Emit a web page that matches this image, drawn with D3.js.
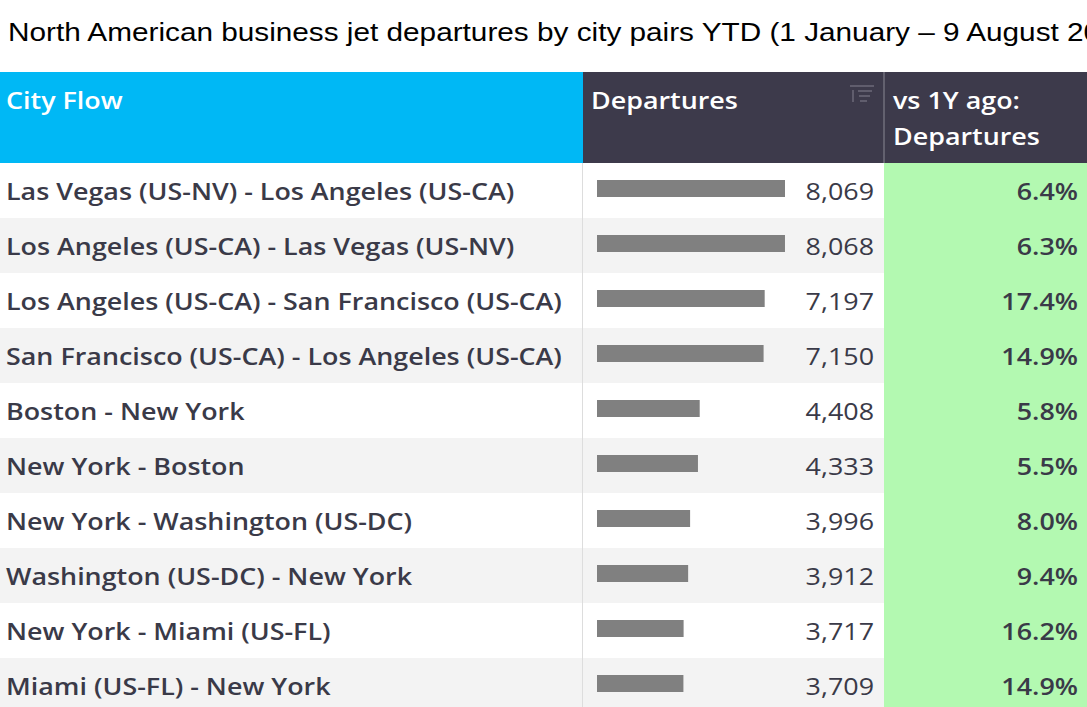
<!DOCTYPE html>
<html><head><meta charset="utf-8">
<script src="https://cdn.jsdelivr.net/npm/d3@7"></script>
<style>body{margin:0;background:#fff;overflow:hidden}</style>
</head><body><div id="chart"></div>
<script>
const cities = [
  "Las Vegas (US-NV) - Los Angeles (US-CA)",
  "Los Angeles (US-CA) - Las Vegas (US-NV)",
  "Los Angeles (US-CA) - San Francisco (US-CA)",
  "San Francisco (US-CA) - Los Angeles (US-CA)",
  "Boston - New York",
  "New York - Boston",
  "New York - Washington (US-DC)",
  "Washington (US-DC) - New York",
  "New York - Miami (US-FL)",
  "Miami (US-FL) - New York"
];
const departures = [8069, 8068, 7197, 7150, 4408, 4333, 3996, 3912, 3717, 3709];
const change = [6.4, 6.3, 17.4, 14.9, 5.8, 5.5, 8.0, 9.4, 16.2, 14.9];
const title = "North American business jet departures by city pairs YTD (1 January \u2013 9 August 2024)";

const W = 1087, H = 707;
const svg = d3.select("#chart").append("svg").attr("width", W).attr("height", H)
  .style("font-family", "'Open Sans', sans-serif");

// reference text is a bit wider than the fonts here, so stretch horizontally
const sx = 1.12;
function txt(parent, x, y, t, size, weight, fill, anchor) {
  return parent.append("text")
    .attr("transform", `translate(${x},${y}) scale(${sx},1)`)
    .attr("text-anchor", anchor || "start")
    .attr("font-size", size).attr("font-weight", weight).attr("fill", fill).text(t);
}

txt(svg, 8, 41, title, 25, 400, "#000").style("font-family", "'Liberation Sans', Arial, sans-serif")
  .attr("transform", "translate(8,41) scale(1.19,1)");

const c1 = 0, c2 = 583, c3 = 884;
const headTop = 72, headH = 91, rowH = 55;
const textCol = "#3a3a48";

// header
svg.append("rect").attr("x", c1).attr("y", headTop).attr("width", c2 - c1).attr("height", headH).attr("fill", "#00b8f5");
svg.append("rect").attr("x", c2).attr("y", headTop).attr("width", W - c2).attr("height", headH).attr("fill", "#3d3a4b");
svg.append("line").attr("x1", c3).attr("x2", c3).attr("y1", headTop).attr("y2", headTop + headH).attr("stroke", "#8a8894");
txt(svg, 6, 109, "City Flow", 24, 600, "#fff");
txt(svg, 591, 109, "Departures", 24, 600, "#fff");
txt(svg, 893, 109, "vs 1Y ago:", 24, 600, "#fff");
txt(svg, 893, 145, "Departures", 24, 600, "#fff");
// sort icon
const ic = svg.append("g").attr("stroke", "#6c6a78").attr("stroke-width", 1.5);
ic.append("line").attr("x1", 850).attr("x2", 874).attr("y1", 86).attr("y2", 86);
ic.append("line").attr("x1", 853).attr("x2", 853).attr("y1", 90).attr("y2", 102);
[[858, 872, 91], [859, 870, 96], [860, 867, 101]].forEach(d =>
  ic.append("line").attr("x1", d[0]).attr("x2", d[1]).attr("y1", d[2]).attr("y2", d[2]));

// rows
const y = d3.scaleBand().domain(d3.range(cities.length))
  .range([headTop + headH, headTop + headH + rowH * cities.length]);
const x = d3.scaleLinear().domain([0, d3.max(departures)]).range([0, 188]);

const rows = svg.selectAll(".row").data(cities).enter().append("g")
  .attr("transform", (d, i) => `translate(0,${y(i)})`);
rows.append("rect").attr("width", c3).attr("height", rowH)
  .attr("fill", (d, i) => i % 2 ? "#f3f3f3" : "#fff");
rows.append("rect").attr("x", c3).attr("width", W - c3).attr("height", rowH).attr("fill", "#b3f9b1");
rows.each(function (d, i) {
  const g = d3.select(this);
  txt(g, 6, rowH / 2 + 9, d, 24, 600, textCol);
  txt(g, 874, rowH / 2 + 9, d3.format(",")(departures[i]), 24, 500, textCol, "end");
  txt(g, 1078, rowH / 2 + 9, change[i].toFixed(1) + "%", 24, 600, textCol, "end");
});
rows.append("rect").attr("x", 597).attr("y", 17).attr("height", 17)
  .attr("width", (d, i) => x(departures[i])).attr("fill", "#808080");
svg.append("line").attr("x1", c2 - 0.5).attr("x2", c2 - 0.5).attr("y1", headTop + headH).attr("y2", H).attr("stroke", "#ddd");
</script></body></html>
